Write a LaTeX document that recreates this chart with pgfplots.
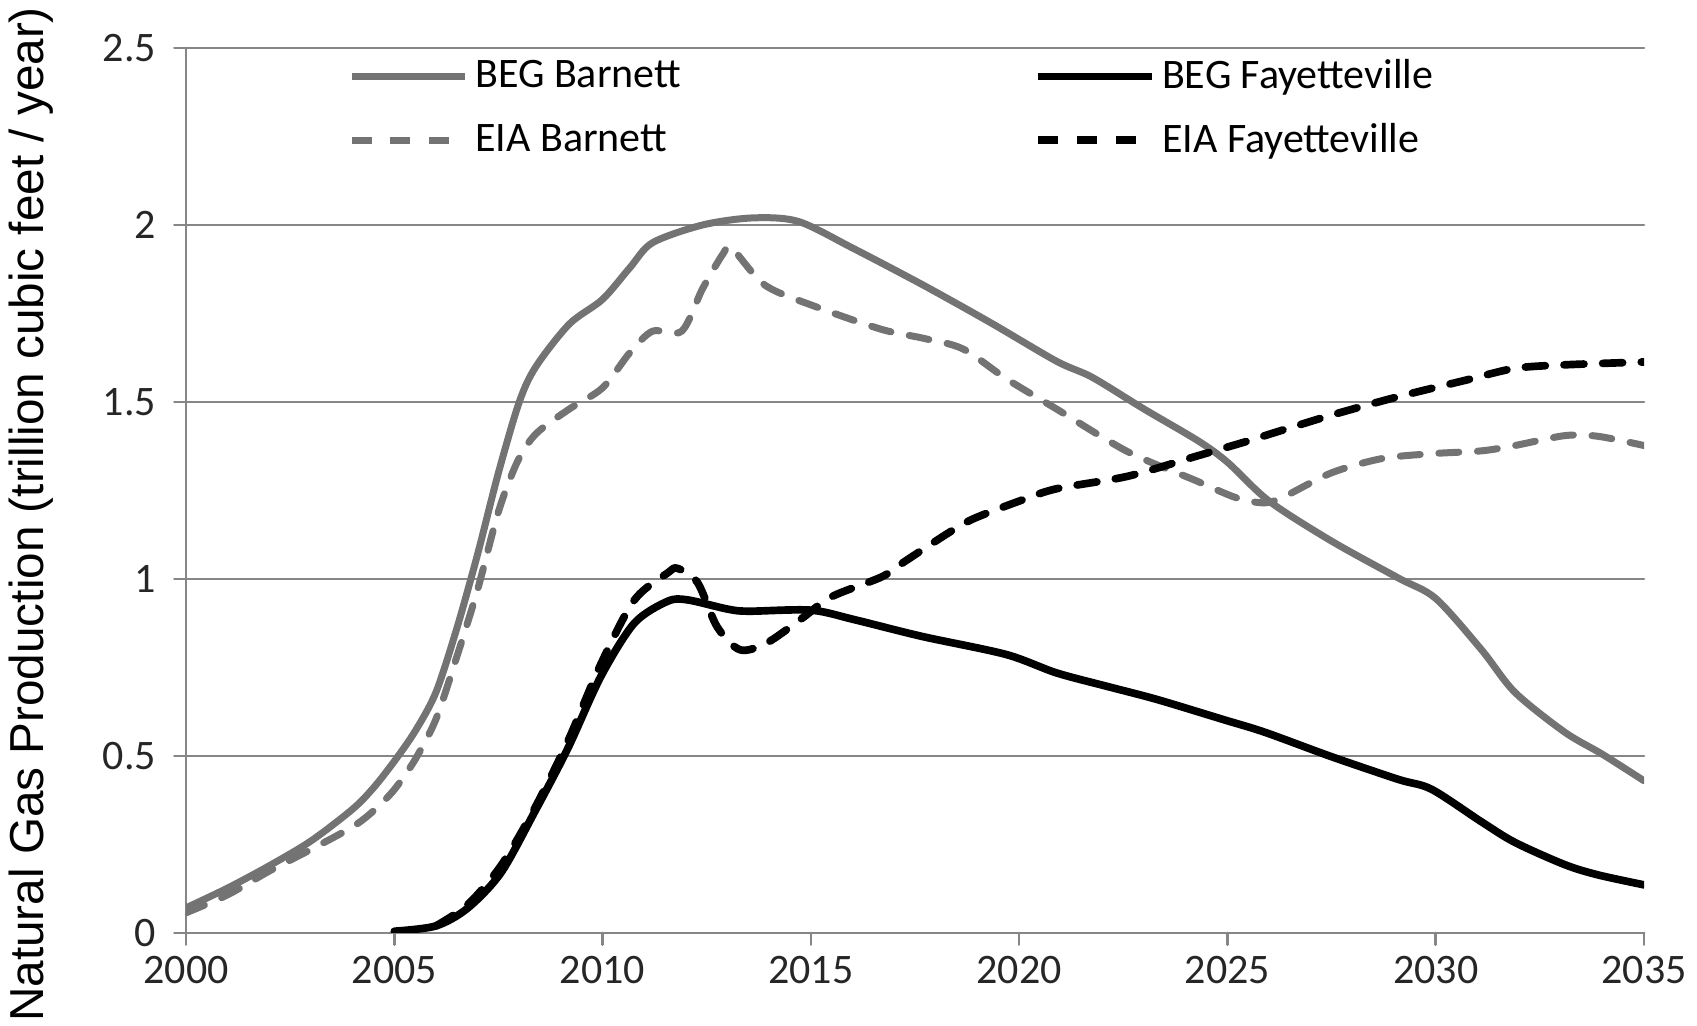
\documentclass[border=0pt]{standalone}
\usepackage{fontspec}
\setmainfont{Carlito}
\newfontfamily\labelfont{Liberation Sans}
\usepackage{pgfplots}
\pgfplotsset{compat=1.18}

\definecolor{gridgray}{RGB}{134,134,134}
\definecolor{linegray}{RGB}{115,115,115}

% Production series (trillion cubic feet per year)
\pgfplotstableread{
x y
2000 0.071
2001 0.127
2002 0.190
2003 0.260
2004 0.350
2004.5 0.410
2005 0.485
2005.5 0.570
2006 0.680
2006.5 0.860
2007.0 1.070
2007.5 1.300
2008.0 1.500
2008.4 1.600
2009.2 1.720
2010.0 1.790
2010.66 1.880
2011.2 1.950
2012.4 2.000
2013.6 2.020
2014.7 2.010
2016.0 1.935
2017.7 1.830
2019.3 1.725
2020.9 1.615
2021.75 1.570
2023.0 1.480
2024.3 1.390
2025.0 1.330
2026.0 1.220
2027.5 1.107
2029.1 1.003
2030.0 0.945
2031.1 0.800
2031.9 0.680
2033.1 0.567
2034.0 0.505
2035.0 0.430
}\begBarnett

\pgfplotstableread{
x y
2000 0.057
2001 0.108
2002 0.175
2003 0.236
2004 0.300
2004.5 0.345
2005 0.405
2005.5 0.490
2006 0.604
2006.5 0.780
2007.0 0.970
2007.5 1.190
2007.95 1.330
2008.4 1.410
2009.2 1.480
2010.0 1.540
2010.66 1.640
2011.2 1.700
2011.9 1.700
2012.4 1.820
2012.9 1.920
2013.1 1.935
2013.9 1.830
2015.1 1.770
2016.7 1.705
2017.7 1.680
2018.65 1.650
2019.7 1.565
2020.9 1.480
2022.6 1.360
2024.2 1.280
2025.2 1.230
2025.9 1.215
2026.4 1.235
2027.5 1.300
2028.7 1.340
2029.9 1.354
2031.1 1.362
2031.9 1.377
2033.1 1.405
2033.9 1.403
2035.0 1.377
}\eiaBarnett

\pgfplotstableread{
x y
2005 0.005
2006 0.020
2006.76 0.070
2007.56 0.170
2008.36 0.340
2009.16 0.520
2009.96 0.725
2010.76 0.875
2011.56 0.937
2012.04 0.941
2013.0 0.915
2013.5 0.909
2015.0 0.912
2016.05 0.885
2017.66 0.838
2019.68 0.787
2020.89 0.735
2022.1 0.697
2023.3 0.660
2024.9 0.603
2025.9 0.567
2027.5 0.498
2029.1 0.434
2029.9 0.406
2031.1 0.314
2031.9 0.256
2033.1 0.193
2033.9 0.164
2035.0 0.136
}\begFayetteville

\pgfplotstableread{
x y
2006 0.020
2006.76 0.080
2007.56 0.190
2008.36 0.350
2009.16 0.540
2009.96 0.760
2010.76 0.940
2011.56 1.017
2011.8 1.030
2012.28 0.990
2012.75 0.865
2013.3 0.800
2013.95 0.820
2014.8 0.890
2015.5 0.950
2016.7 1.006
2017.26 1.050
2018.3 1.130
2018.9 1.170
2020.0 1.220
2020.9 1.255
2022.6 1.290
2024.2 1.345
2025.5 1.390
2025.9 1.405
2027.5 1.463
2029.1 1.515
2030.7 1.561
2031.9 1.595
2033.1 1.605
2035.0 1.613
}\eiaFayetteville

\begin{document}
\begin{tikzpicture}
\useasboundingbox (-55.8pt,-27.9pt) rectangle (453.3pt,279.9pt);
\begin{axis}[
  scale only axis,
  width=437.4pt, height=265.5pt,
  xmin=2000, xmax=2035, ymin=0, ymax=2.5,
  xtick={2000,2005,2010,2015,2020,2025,2030,2035},
  ytick={0,0.5,1,1.5,2,2.5},
  axis x line*=bottom, axis y line*=left,
  axis line style={-, draw=gridgray, line width=0.8pt},
  ymajorgrids,
  major grid style={draw=gridgray, line width=0.8pt},
  tick align=outside,
  major tick length=3.5pt,
  tick style={draw=gridgray, line width=0.8pt},
  /pgf/number format/assume math mode=true,
  xticklabel style={/pgf/number format/1000 sep=},
  yticklabel style={xshift=-2pt},
  tick label style={font=\fontsize{12.6}{15}\selectfont, text=black!85},
  every axis y label/.style={at={(axis description cs:-0.083,0.473)}, anchor=south, rotate=90},
  ylabel={Natural Gas Production (trillion cubic feet / year)},
  ylabel style={font=\labelfont\fontsize{14.3}{17}\selectfont},
  legend columns=2,
  legend cell align=left,
  legend style={at={(axis description cs:0.104,1.003)}, anchor=north west,
    draw=none, fill=none, font=\fontsize{12.6}{15}\selectfont, row sep=4.9pt,
    /tikz/every even column/.append style={column sep=104pt}},
  legend image code/.code={\draw[#1] (0pt,0pt) -- (34pt,0pt);},
  line cap=round, line join=round,
]
\addplot[linegray, line width=2.1pt, smooth] table {\begBarnett};
\addlegendentry{BEG Barnett}
\addplot[black, line width=2.3pt, smooth] table {\begFayetteville};
\addlegendentry{BEG Fayetteville}
\addplot[linegray, line width=2.1pt, smooth, dash pattern=on 6pt off 5.6pt] table {\eiaBarnett};
\addlegendentry{EIA Barnett}
\addplot[black, line width=2.3pt, smooth, dash pattern=on 6pt off 5.6pt] table {\eiaFayetteville};
\addlegendentry{EIA Fayetteville}
\end{axis}
\end{tikzpicture}
\end{document}
